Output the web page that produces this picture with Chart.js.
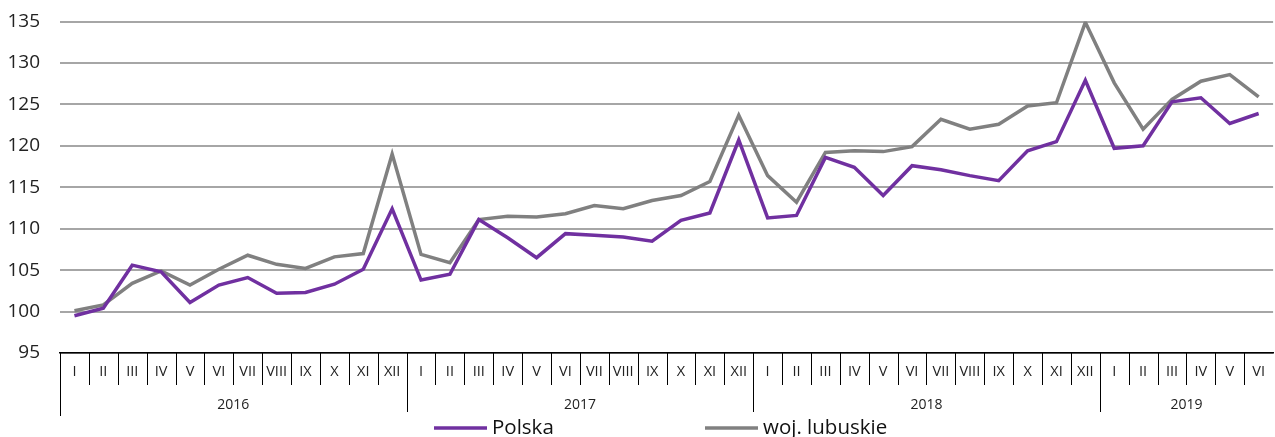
<!DOCTYPE html>
<html>
<head>
<meta charset="utf-8">
<script src="https://cdn.jsdelivr.net/npm/chart.js@4"></script>
<style>
  html, body { margin: 0; padding: 0; background: #fff; }
  #wrap { width: 1275px; height: 437px; position: relative; }
</style>
</head>
<body>
<div id="wrap"><canvas id="chart"></canvas></div>
<script>
// years and how many months of each are shown
const years = ['2016', '2017', '2018', '2019'];
const monthsPerYear = [12, 12, 12, 6];

const monthLabels = [
  'I', 'II', 'III', 'IV', 'V', 'VI', 'VII', 'VIII', 'IX', 'X', 'XI', 'XII',
  'I', 'II', 'III', 'IV', 'V', 'VI', 'VII', 'VIII', 'IX', 'X', 'XI', 'XII',
  'I', 'II', 'III', 'IV', 'V', 'VI', 'VII', 'VIII', 'IX', 'X', 'XI', 'XII',
  'I', 'II', 'III', 'IV', 'V', 'VI'
];

const polska = [
  99.5, 100.4, 105.6, 104.8, 101.1, 103.2, 104.1, 102.2, 102.3, 103.3, 105.1, 112.4,
  103.8, 104.5, 111.1, 108.9, 106.5, 109.4, 109.2, 109.0, 108.5, 111.0, 111.9, 120.7,
  111.3, 111.6, 118.6, 117.4, 114.0, 117.6, 117.1, 116.4, 115.8, 119.4, 120.5, 127.9,
  119.7, 120.0, 125.3, 125.8, 122.7, 123.9
];

const lubuskie = [
  100.1, 100.8, 103.4, 104.9, 103.2, 105.1, 106.8, 105.7, 105.2, 106.6, 107.0, 119.0,
  106.9, 105.9, 111.1, 111.5, 111.4, 111.8, 112.8, 112.4, 113.4, 114.0, 115.7, 123.7,
  116.4, 113.2, 119.2, 119.4, 119.3, 119.9, 123.2, 122.0, 122.6, 124.8, 125.2, 134.9,
  127.6, 122.0, 125.6, 127.8, 128.6, 125.9
];

const seriesNames = ['Polska', 'woj. lubuskie'];
const seriesColors = ['#7030a0', '#808080'];

const FONT = "'Open Sans', 'Noto Sans', sans-serif";

// second x-axis row (years) + month separators + legend
const groupAxis = {
  id: 'groupAxis',
  afterDraw(chart) {
    const ctx = chart.ctx;
    const x = chart.scales.x;
    const top = x.top;
    const step = x.width / monthLabels.length;
    ctx.save();
    ctx.strokeStyle = '#000';
    ctx.lineWidth = 1;

    // month separators
    for (let i = 0; i < monthLabels.length; i++) {
      const bx = Math.round(x.getPixelForValue(i) - step / 2) + 0.5;
      ctx.beginPath();
      ctx.moveTo(bx, top);
      ctx.lineTo(bx, top + 32);
      ctx.stroke();
    }

    // year separators and labels
    let start = 0;
    ctx.fillStyle = '#222';
    ctx.font = '14px ' + FONT;
    ctx.textAlign = 'center';
    ctx.textBaseline = 'middle';
    years.forEach((yr, k) => {
      const end = start + monthsPerYear[k];
      const bx = Math.round(x.getPixelForValue(start) - step / 2) + 0.5;
      ctx.beginPath();
      ctx.moveTo(bx, top);
      ctx.lineTo(bx, top + (k === 0 ? 63 : 59));
      ctx.stroke();
      const cx = (x.getPixelForValue(start) + x.getPixelForValue(end - 1)) / 2;
      ctx.fillText(yr, cx, top + 52);
      start = end;
    });

    // legend
    const ly = 428;
    const items = [
      { x0: 434, name: seriesNames[0], color: seriesColors[0] },
      { x0: 705, name: seriesNames[1], color: seriesColors[1] }
    ];
    ctx.font = '20.5px ' + FONT;
    ctx.textAlign = 'left';
    ctx.lineWidth = 3.5;
    items.forEach(it => {
      ctx.strokeStyle = it.color;
      ctx.beginPath();
      ctx.moveTo(it.x0, ly);
      ctx.lineTo(it.x0 + 53, ly);
      ctx.stroke();
      ctx.fillStyle = '#111';
      ctx.fillText(it.name, it.x0 + 58, ly);
    });
    ctx.restore();
  }
};

new Chart(document.getElementById('chart'), {
  type: 'line',
  data: {
    labels: monthLabels,
    datasets: [
      {
        label: seriesNames[0],
        data: polska,
        borderColor: seriesColors[0],
        backgroundColor: seriesColors[0],
        borderWidth: 3.5,
        pointRadius: 0,
        tension: 0,
        fill: false
      },
      {
        label: seriesNames[1],
        data: lubuskie,
        borderColor: seriesColors[1],
        backgroundColor: seriesColors[1],
        borderWidth: 3.5,
        pointRadius: 0,
        tension: 0,
        fill: false
      }
    ]
  },
  options: {
    responsive: true,
    maintainAspectRatio: false,
    animation: false,
    layout: { padding: { top: 0, right: -4, bottom: 0, left: 0 } },
    plugins: {
      legend: { display: false },
      tooltip: { enabled: false }
    },
    scales: {
      x: {
        offset: true,
        grid: { display: false, drawTicks: false },
        border: { display: true, color: '#000', width: 1.5 },
        ticks: {
          color: '#222',
          font: { size: 14.5, family: FONT },
          padding: 10,
          maxRotation: 0,
          autoSkip: false
        },
        afterFit: s => { s.height = 84; }
      },
      y: {
        min: 95,
        max: 135,
        grid: {
          color: '#a6a6a6',
          lineWidth: 2,
          drawTicks: true,
          tickLength: 8,
          tickColor: 'rgba(0,0,0,0)'
        },
        border: { display: false },
        ticks: {
          stepSize: 5,
          color: '#222',
          font: { size: 19, family: FONT, lineHeight: 1 },
          padding: 12
        },
        afterFit: s => { s.width = 60; }
      }
    }
  },
  plugins: [groupAxis]
});
</script>
</body>
</html>
